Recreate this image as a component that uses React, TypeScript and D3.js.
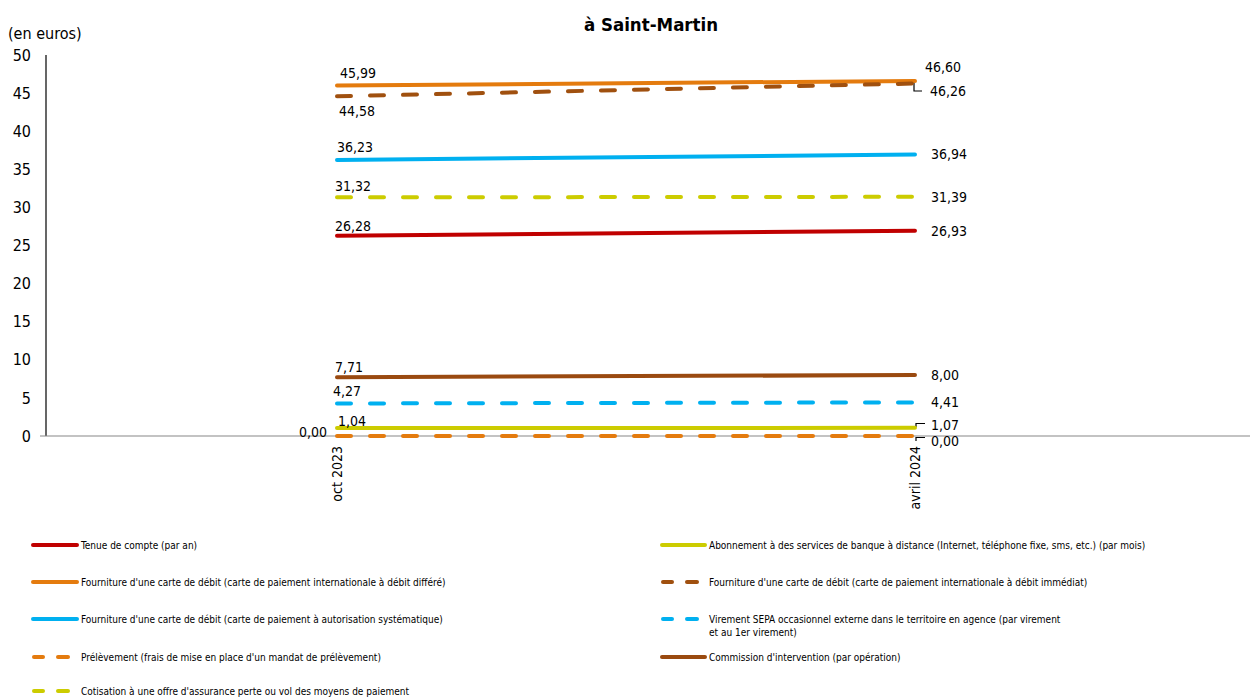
import React from "react";
import * as d3 from "d3";

const periods = ["oct 2023", "avril 2024"];
const yTicks = [0, 5, 10, 15, 20, 25, 30, 35, 40, 45, 50];

const seriesNames = [
  "Tenue de compte (par an)",
  "Fourniture d'une carte de débit (carte de paiement internationale à débit différé)",
  "Fourniture d'une carte de débit (carte de paiement à autorisation systématique)",
  "Prélèvement (frais de mise en place d'un mandat de prélèvement)",
  "Cotisation à une offre d'assurance perte ou vol des moyens de paiement",
  "Abonnement à des services de banque à distance (Internet, téléphone fixe, sms, etc.) (par mois)",
  "Fourniture d'une carte de débit (carte de paiement internationale à débit immédiat)",
  "Virement SEPA occasionnel externe dans le territoire en agence (par virement|et au 1er virement)",
  "Commission d'intervention (par opération)",
];
const valuesOct2023 = [26.28, 45.99, 36.23, 0.0, 31.32, 1.04, 44.58, 4.27, 7.71];
const valuesAvr2024 = [26.93, 46.6, 36.94, 0.0, 31.39, 1.07, 46.26, 4.41, 8.0];

const colors = ["#C00000", "#E47B0E", "#00B0F0", "#E47B0E", "#CCCC00", "#CCCC00", "#A0500F", "#00B0F0", "#9A4A10"];
const dashed = [false, false, false, true, true, false, true, true, false];

// label placement (style): [dx, dy, anchor] for left and right labels
const leftLabel: [number, number, string][] = [
  [-2, -10, "start"], [3, -12, "start"], [0, -13, "start"], [-10, -4, "end"], [-2, -11, "start"],
  [1, -7, "start"], [2, 15, "start"], [-4, -12, "start"], [-2, -10, "start"],
];
const rightLabel: [number, number, string][] = [
  [16, 0, "start"], [10, -14, "start"], [16, 0, "start"], [16, 5, "start"], [16, 0, "start"],
  [16, -3, "start"], [15, 7.5, "start"], [16, 0, "start"], [16, 0, "start"],
];

const fmt = (v: number) => v.toFixed(2).replace(".", ",");
const FONT = "'DejaVu Sans Condensed', 'DejaVu Sans', sans-serif";

export default function App() {
  const W = 1252, H = 698;
  const x = d3.scalePoint<string>().domain(periods).range([337, 915]).padding(0);
  const y = d3.scaleLinear().domain([0, 50]).range([436, 55]);
  const line = d3.line<[string, number]>().x((d) => x(d[0]) as number).y((d) => y(d[1]));

  const legendLeft = [0, 1, 2, 3, 4];
  const legendRight = [5, 6, 7, 8];
  const leftRowsY = [545, 582, 619, 657, 691];
  const rightRowsY = [545, 582, 619, 657];

  const swatch = (i: number, x0: number, x1: number, yy: number) =>
    dashed[i] ? (
      <g>
        <line x1={x0 + 1} x2={x0 + 10} y1={yy} y2={yy} stroke={colors[i]} strokeWidth={4} strokeLinecap="round" />
        <line x1={x0 + 25} x2={x0 + 35} y1={yy} y2={yy} stroke={colors[i]} strokeWidth={4} strokeLinecap="round" />
      </g>
    ) : (
      <line x1={x0} x2={x1} y1={yy} y2={yy} stroke={colors[i]} strokeWidth={4} strokeLinecap="round" />
    );

  return (
    <svg width={W} height={H} style={{ position: "absolute", left: 0, top: 0, background: "#fff" }} fontFamily={FONT}>
      <text x={651} y={31} textAnchor="middle" fontWeight="bold" fontSize={18.5} fill="#000">à Saint-Martin</text>
      <text x={8} y={39} fontSize={16} fill="#000">(en euros)</text>
      {yTicks.map((t) => (
        <text key={t} x={31} y={y(t)} dy="0.35em" textAnchor="end" fontSize={16} fill="#000">{t}</text>
      ))}
      <line x1={46} x2={46} y1={y(50)} y2={y(0)} stroke="#000" strokeWidth={1.2} />
      <line x1={40} x2={1250} y1={y(0)} y2={y(0)} stroke="#888" strokeWidth={1.2} />
      {periods.map((p) => (
        <text key={p} transform={`translate(${(x(p) as number) + 5},${446}) rotate(-90)`} textAnchor="end" fontSize={14} fill="#000">{p}</text>
      ))}
      {/* leader lines */}
      <path d="M914,82 V91 H922" fill="none" stroke="#000" strokeWidth={1.2} />
      <path d="M916,427 V423.5 H925" fill="none" stroke="#000" strokeWidth={1.2} />
      <path d="M916,441 V437.5 H925" fill="none" stroke="#000" strokeWidth={1.2} />
      {seriesNames.map((_, i) => {
        const pts: [string, number][] = [[periods[0], valuesOct2023[i]], [periods[1], valuesAvr2024[i]]];
        return (
          <path key={i} d={line(pts) as string} fill="none" stroke={colors[i]} strokeWidth={4}
            strokeLinecap="round" strokeDasharray={dashed[i] ? "14 19" : undefined} />
        );
      })}
      {seriesNames.map((_, i) => {
        const [ldx, ldy, la] = leftLabel[i];
        const [rdx, rdy, ra] = rightLabel[i];
        return (
          <g key={i} fontSize={14} fill="#000">
            <text x={(x(periods[0]) as number) + ldx} y={y(valuesOct2023[i]) + ldy} dy="0.35em" textAnchor={la}>{fmt(valuesOct2023[i])}</text>
            <text x={(x(periods[1]) as number) + rdx} y={y(valuesAvr2024[i]) + rdy} dy="0.35em" textAnchor={ra}>{fmt(valuesAvr2024[i])}</text>
          </g>
        );
      })}
      {legendLeft.map((i, k) => (
        <g key={i}>
          {swatch(i, 33, 77, leftRowsY[k])}
          <text x={81} y={leftRowsY[k]} dy="0.35em" fontSize={10} fill="#000">{seriesNames[i]}</text>
        </g>
      ))}
      {legendRight.map((i, k) => (
        <g key={i}>
          {swatch(i, 662, 705, rightRowsY[k])}
          {seriesNames[i].split("|").map((s, j) => (
            <text key={j} x={709} y={rightRowsY[k] + j * 13} dy="0.35em" fontSize={10} fill="#000">{s}</text>
          ))}
        </g>
      ))}
    </svg>
  );
}
